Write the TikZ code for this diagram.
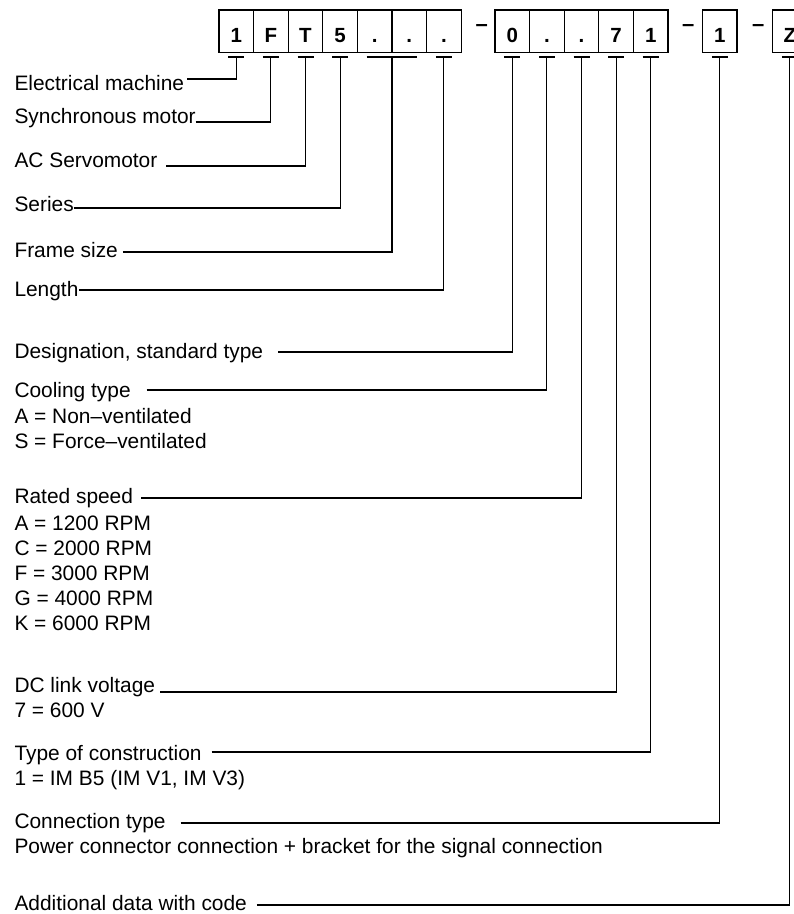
\documentclass[tikz,border=0pt]{standalone}
\usepackage{fontspec}
\setmainfont{Liberation Sans}
\usepackage{tikz}
\usetikzlibrary{positioning}
\tikzset{
  every node/.style={font=\fontsize{20.9}{25}\selectfont,inner sep=0pt,outer sep=0pt},
  cell/.style={draw,line width=1.3pt,minimum width=34.6pt,minimum height=42.5pt,text height=21.5pt,text depth=0pt,font=\fontsize{20.5}{24}\selectfont\bfseries},
  sepdash/.style={anchor=base,font=\fontsize{22}{24}\selectfont\bfseries},
  lbl/.style={anchor=base west},
  lead/.style={line width=1.1pt},
  tickmark/.style={line width=1.1pt}
}

\begin{document}
\begin{tikzpicture}[x=1pt,y=-1pt]
  \useasboundingbox (0,0) rectangle (794,914);

  \node[cell,anchor=north west] (b1) at (219,10) {1};
  \node[cell,right=0pt of b1] (b2) {F};
  \node[cell,right=0pt of b2] (b3) {T};
  \node[cell,right=0pt of b3] (b4) {5};
  \node[cell,right=0pt of b4] (b5) {.};
  \node[cell,right=0pt of b5] (b6) {.};
  \node[cell,right=0pt of b6] (b7) {.};
  \node[sepdash] (d1) at (481.7,31) {–};
  \node[cell,right=33.8pt of b7] (c1) {0};
  \node[cell,right=0pt of c1] (c2) {.};
  \node[cell,right=0pt of c2] (c3) {.};
  \node[cell,right=0pt of c3] (c4) {7};
  \node[cell,right=0pt of c4] (c5) {1};
  \node[sepdash] (d2) at (688.3,31) {–};
  \node[cell,right=34.5pt of c5] (e1) {1};
  \node[sepdash] (d3) at (758.3,31) {–};
  \node[cell,right=35.5pt of e1] (z1) {Z};

  \coordinate (t1) at ([yshift=-4.5pt]b1.south);
  \coordinate (t2) at ([yshift=-4.5pt]b2.south);
  \coordinate (t3) at ([yshift=-4.5pt]b3.south);
  \coordinate (t4) at ([yshift=-4.5pt]b4.south);
  \coordinate (t5) at ([yshift=-4.5pt]b5.south);
  \coordinate (t6) at ([yshift=-4.5pt]b6.south);
  \coordinate (tf) at ([yshift=-4.5pt]b5.south east);
  \coordinate (t7) at ([yshift=-4.5pt]b7.south);
  \coordinate (u1) at ([yshift=-4.5pt]c1.south);
  \coordinate (u2) at ([yshift=-4.5pt]c2.south);
  \coordinate (u3) at ([yshift=-4.5pt]c3.south);
  \coordinate (u4) at ([yshift=-4.5pt]c4.south);
  \coordinate (u5) at ([yshift=-4.5pt]c5.south);
  \coordinate (v1) at ([yshift=-4.5pt]e1.south);
  \coordinate (w1) at ([yshift=-4.5pt]z1.south);

  \draw[tickmark] ([xshift=-8pt]t1) -- ([xshift=8pt]t1);
  \draw[tickmark] ([xshift=-8pt]t2) -- ([xshift=8pt]t2);
  \draw[tickmark] ([xshift=-8pt]t3) -- ([xshift=8pt]t3);
  \draw[tickmark] ([xshift=-8pt]t4) -- ([xshift=8pt]t4);
  \draw[tickmark] ([xshift=-8pt]t5) -- ([xshift=8pt]t6);
  \draw[tickmark] ([xshift=-8pt]t7) -- ([xshift=8pt]t7);
  \draw[tickmark] ([xshift=-8pt]u1) -- ([xshift=8pt]u1);
  \draw[tickmark] ([xshift=-8pt]u2) -- ([xshift=8pt]u2);
  \draw[tickmark] ([xshift=-8pt]u3) -- ([xshift=8pt]u3);
  \draw[tickmark] ([xshift=-8pt]u4) -- ([xshift=8pt]u4);
  \draw[tickmark] ([xshift=-8pt]u5) -- ([xshift=8pt]u5);
  \draw[tickmark] ([xshift=-8pt]v1) -- ([xshift=8pt]v1);
  \draw[tickmark] ([xshift=-8pt]w1) -- ([xshift=8pt]w1);

  \node[lbl] (elec) at (14.5,90) {Electrical machine};
  \node[lbl] (sync) at (14.5,123) {Synchronous motor};
  \node[lbl] (servo) at (14.5,167) {AC Servomotor};
  \node[lbl] (series) at (14.5,211) {Series};
  \node[lbl] (frame) at (14.5,257) {Frame size};
  \node[lbl] (length) at (14.5,296) {Length};
  \node[lbl] (desig) at (14.5,358) {Designation, standard type};
  \node[lbl] (cool) at (14.5,397) {Cooling type};
  \node[lbl] (coolA) at (14.5,423) {A = Non–ventilated};
  \node[lbl] (coolS) at (14.5,448) {S = Force–ventilated};
  \node[lbl] (speed) at (14.5,503) {Rated speed};
  \node[lbl] (speedA) at (14.5,530) {A = 1200 RPM};
  \node[lbl] (speedC) at (14.5,555) {C = 2000 RPM};
  \node[lbl] (speedF) at (14.5,580) {F = 3000 RPM};
  \node[lbl] (speedG) at (14.5,605) {G = 4000 RPM};
  \node[lbl] (speedK) at (14.5,630) {K = 6000 RPM};
  \node[lbl] (volt) at (14.5,692) {DC link voltage};
  \node[lbl] (volt7) at (14.5,717) {7 = 600 V};
  \node[lbl] (constr) at (14.5,760) {Type of construction};
  \node[lbl] (constr1) at (14.5,785) {1 = IM B5 (IM V1, IM V3)};
  \node[lbl] (conn) at (14.5,828) {Connection type};
  \node[lbl] (conn1) at (14.5,853) {Power connector connection + bracket for the signal connection};
  \node[lbl] (extra) at (14.5,910) {Additional data with code};

  \draw[lead] ([shift={(3,-11)}]elec.base east) -| (t1);
  \draw[lead] ([shift={(0,-1)}]sync.base east) -| (t2);
  \draw[lead] ([shift={(9,-1)}]servo.base east) -| (t3);
  \draw[lead] ([shift={(0,-3)}]series.base east) -| (t4);
  \draw[lead] ([shift={(5,-5)}]frame.base east) -| (tf);
  \draw[lead] ([shift={(1,-6)}]length.base east) -| (t7);
  \draw[lead] ([shift={(15,-6)}]desig.base east) -| (u1);
  \draw[lead] ([shift={(16,-7)}]cool.base east) -| (u2);
  \draw[lead] ([shift={(8,-5)}]speed.base east) -| (u3);
  \draw[lead] ([shift={(5,0)}]volt.base east) -| (u4);
  \draw[lead] ([shift={(10,-8)}]constr.base east) -| (u5);
  \draw[lead] ([shift={(15,-5)}]conn.base east) -| (v1);
  \draw[lead] ([shift={(10,-5)}]extra.base east) -| (w1);
\end{tikzpicture}
\end{document}
